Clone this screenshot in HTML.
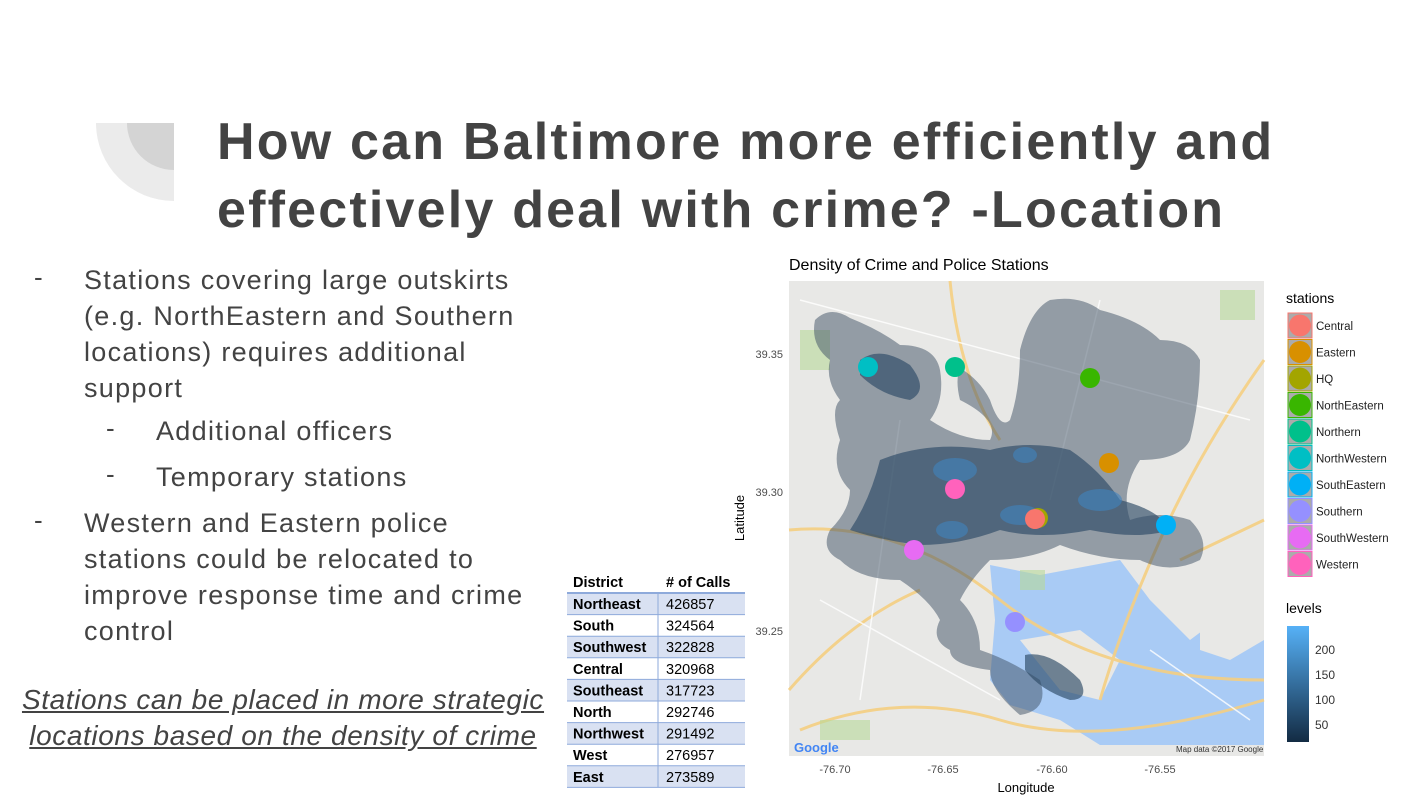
<!DOCTYPE html>
<html><head><meta charset="utf-8"><style>
body{margin:0;width:1428px;height:800px;background:#fff;overflow:hidden;position:relative;font-family:"Liberation Sans",sans-serif;color:#434343}
.t{position:absolute;left:217px;font-weight:bold;font-size:52px;line-height:68px;letter-spacing:2.2px;white-space:nowrap}
.b{position:absolute;font-size:27px;line-height:36px;color:#434343;white-space:nowrap;letter-spacing:1.3px}
.d{position:absolute;font-size:26px}
</style></head><body>
<svg style="position:absolute;left:0;top:0" width="1428" height="800">
<path d="M96,123 H174 V201 A78,78 0 0 1 96,123Z" fill="#ebebeb"/>
<path d="M127,123 H174 V170 A47,47 0 0 1 127,123Z" fill="#d4d4d4"/>
</svg>
<div class="t" style="top:108px">How can Baltimore more efficiently and</div>
<div class="t" style="top:176px">effectively deal with crime? -Location</div>
<div class="d" style="left:34px;top:262px">-</div>
<div class="b" style="left:84px;top:262px">Stations covering large outskirts<br>(e.g. NorthEastern and Southern<br>locations) requires additional<br>support</div>
<div class="d" style="left:106px;top:413px">-</div><div class="b" style="left:156px;top:413px">Additional officers</div>
<div class="d" style="left:106px;top:459px">-</div><div class="b" style="left:156px;top:459px">Temporary stations</div>
<div class="d" style="left:34px;top:505px">-</div>
<div class="b" style="left:84px;top:505px">Western and Eastern police<br>stations could be relocated to<br>improve response time and crime<br>control</div>
<div class="b" style="left:0px;top:682px;width:566px;text-align:center;font-style:italic;text-decoration:underline;font-size:28px;letter-spacing:0.6px">Stations can be placed in more strategic<br>locations based on the density of crime</div>

<svg style="position:absolute;left:0;top:0" width="1428" height="800" font-family="Liberation Sans,sans-serif">
<g font-size="14.5" fill="#000">
<text x="573" y="587" font-weight="bold">District</text><text x="666" y="587" font-weight="bold"># of Calls</text>
</g>
<g id="tbl"></g>
<rect x="789" y="281" width="475" height="475" fill="#e8e8e6"/>
<path d="M990,565 L1040,575 1120,560 1150,600 1190,640 1230,610 1264,600 V745 H1100 L1060,720 1010,705 990,680 995,620 Z" fill="#a9cbf5"/>
<path d="M1200,600 L1264,590 1264,640 1230,660 1200,650Z" fill="#e8e8e6"/>
<path d="M1020,640 L1080,630 1120,660 1100,700 1060,690Z" fill="#e8e8e6"/>
<g stroke="#f5cf82" stroke-width="3" fill="none" opacity="0.9">
<path d="M789,530 Q900,520 1000,600 T1264,680"/><path d="M800,730 Q900,690 1000,720 T1264,700"/>
<path d="M950,281 Q960,380 1000,440"/><path d="M1264,360 Q1200,450 1160,540 T1100,700"/>
<path d="M789,690 Q850,620 920,590"/><path d="M1180,560 L1264,520"/>
</g>
<g stroke="#fff" stroke-width="1.5" fill="none" opacity="0.8">
<path d="M800,300 L1250,420"/><path d="M820,600 L1000,700"/><path d="M1100,300 L1050,500"/><path d="M900,420 L860,700"/><path d="M1150,650 L1250,720"/>
</g>
<g fill="#b8d99a" opacity="0.6"><rect x="800" y="330" width="30" height="40"/><rect x="1220" y="290" width="35" height="30"/><rect x="1020" y="570" width="25" height="20"/><rect x="820" y="720" width="50" height="20"/></g>
<g fill="#3e5064" fill-opacity="0.5">
<path d="M815,320 Q830,305 850,318 Q880,330 900,345 Q935,345 940,370 Q945,400 930,420 Q960,440 990,440 Q1000,420 960,400 Q955,380 960,368 Q980,380 990,400 Q1000,430 1010,420 Q1020,390 1020,350 Q1030,310 1050,300 Q1080,295 1100,310 Q1140,320 1160,340 Q1190,340 1200,360 Q1200,400 1190,440 Q1180,460 1140,460 Q1120,490 1130,520 Q1160,510 1190,520 Q1210,540 1200,560 Q1170,575 1140,560 Q1100,560 1060,545 Q1030,560 990,560 Q970,580 960,600 Q980,620 980,650 Q1010,660 1040,680 Q1050,710 1020,715 Q990,690 990,670 Q950,665 950,650 Q930,640 940,620 Q930,600 900,580 Q860,580 840,560 Q820,550 830,530 Q850,510 850,490 Q830,470 840,440 Q830,410 840,400 Q825,380 830,360 Q810,345 815,320Z"/>
</g>
<g fill="#2c4a66" fill-opacity="0.65">
<path d="M860,360 Q880,345 910,365 Q930,390 910,400 Q880,395 860,375Z"/>
<path d="M1025,655 Q1050,650 1080,680 Q1090,700 1070,700 Q1040,690 1025,670Z"/>
<path d="M880,460 Q930,440 990,450 Q1030,440 1070,450 Q1100,470 1120,500 Q1160,510 1170,530 Q1140,540 1090,530 Q1040,540 1000,530 Q960,545 920,545 Q880,540 850,530 Q870,500 880,460Z"/>
</g>
<g fill="#3f84c0" fill-opacity="0.6">
<ellipse cx="955" cy="470" rx="22" ry="12"/><ellipse cx="1100" cy="500" rx="22" ry="11"/><ellipse cx="1020" cy="515" rx="20" ry="10"/><ellipse cx="952" cy="530" rx="16" ry="9"/><ellipse cx="1025" cy="455" rx="12" ry="8"/>
</g>
<g>
<circle cx="868" cy="367" r="10" fill="#00bfc4"/><circle cx="955" cy="367" r="10" fill="#00c08b"/><circle cx="1090" cy="378" r="10" fill="#39b600"/>
<circle cx="1109" cy="463" r="10" fill="#d89000"/><circle cx="955" cy="489" r="10" fill="#ff62bc"/><circle cx="1038" cy="518" r="10" fill="#a3a500"/><circle cx="1035" cy="519" r="10" fill="#f8766d"/>
<circle cx="1166" cy="525" r="10" fill="#00b0f6"/><circle cx="914" cy="550" r="10" fill="#e76bf3"/><circle cx="1015" cy="622" r="10" fill="#9590ff"/>
</g>
<text x="794" y="752" font-size="13" font-weight="bold" fill="#4285f4">Google</text>
<text x="1176" y="752" font-size="8" fill="#333">Map data ©2017 Google</text>
<text x="789" y="270" font-size="16" fill="#000">Density of Crime and Police Stations</text>
<g font-size="11" fill="#4d4d4d" text-anchor="end"><text x="783" y="358">39.35</text><text x="783" y="496">39.30</text><text x="783" y="635">39.25</text></g>
<g font-size="11" fill="#4d4d4d" text-anchor="middle"><text x="835" y="773">-76.70</text><text x="943" y="773">-76.65</text><text x="1052" y="773">-76.60</text><text x="1160" y="773">-76.55</text></g>
<text x="1026" y="792" font-size="13" text-anchor="middle" fill="#000">Longitude</text>
<text transform="translate(744,518) rotate(-90)" font-size="13" text-anchor="middle" fill="#000">Latitude</text>
<text x="1286" y="303" font-size="14" fill="#000">stations</text>
<g font-size="11.5" fill="#222" id="lg"></g>
<text x="1286" y="613" font-size="14" fill="#000">levels</text>
<defs><linearGradient id="g" x1="0" y1="1" x2="0" y2="0"><stop offset="0" stop-color="#132b43"/><stop offset="1" stop-color="#56b1f7"/></linearGradient></defs>
<rect x="1287" y="626" width="22" height="116" fill="url(#g)"/>
<g font-size="12" fill="#333"><text x="1315" y="654">200</text><text x="1315" y="679">150</text><text x="1315" y="704">100</text><text x="1315" y="729">50</text></g>
</svg>
<script>
var ns="http://www.w3.org/2000/svg";
function el(p,t,a,tx){var e=document.createElementNS(ns,t);for(var k in a)e.setAttribute(k,a[k]);if(tx)e.textContent=tx;p.appendChild(e);return e;}
var lg=document.getElementById('lg');
var items=[["Central","#f8766d"],["Eastern","#d89000"],["HQ","#a3a500"],["NorthEastern","#39b600"],["Northern","#00c08b"],["NorthWestern","#00bfc4"],["SouthEastern","#00b0f6"],["Southern","#9590ff"],["SouthWestern","#e76bf3"],["Western","#ff62bc"]];
items.forEach(function(it,i){var y=313+i*26.5;el(lg,'rect',{x:1288,y:y,width:24,height:25,fill:'#ababab',stroke:it[1],'stroke-width':1});el(lg,'circle',{cx:1300,cy:y+12.5,r:11,fill:it[1]});el(lg,'text',{x:1316,y:y+17},it[0]);});
var tb=document.getElementById('tbl');
var rows=[["Northeast","426857"],["South","324564"],["Southwest","322828"],["Central","320968"],["Southeast","317723"],["North","292746"],["Northwest","291492"],["West","276957"],["East","273589"]];
rows.forEach(function(r,i){var y=593+i*21.6;if(i%2==0)el(tb,'rect',{x:567,y:y,width:178,height:21.6,fill:'#d9e1f2'});el(tb,'line',{x1:567,x2:745,y1:y,y2:y,stroke:'#8eaadb','stroke-width':i==0?2:1});el(tb,'text',{x:573,y:y+16,'font-size':14.5,'font-weight':'bold',fill:'#000'},r[0]);el(tb,'text',{x:666,y:y+16,'font-size':14.5,fill:'#000'},r[1]);});
el(tb,'line',{x1:567,x2:745,y1:593+9*21.6,y2:593+9*21.6,stroke:'#8eaadb'});
el(tb,'line',{x1:658,x2:658,y1:593,y2:593+9*21.6,stroke:'#8eaadb'});
</script>
</body></html>
